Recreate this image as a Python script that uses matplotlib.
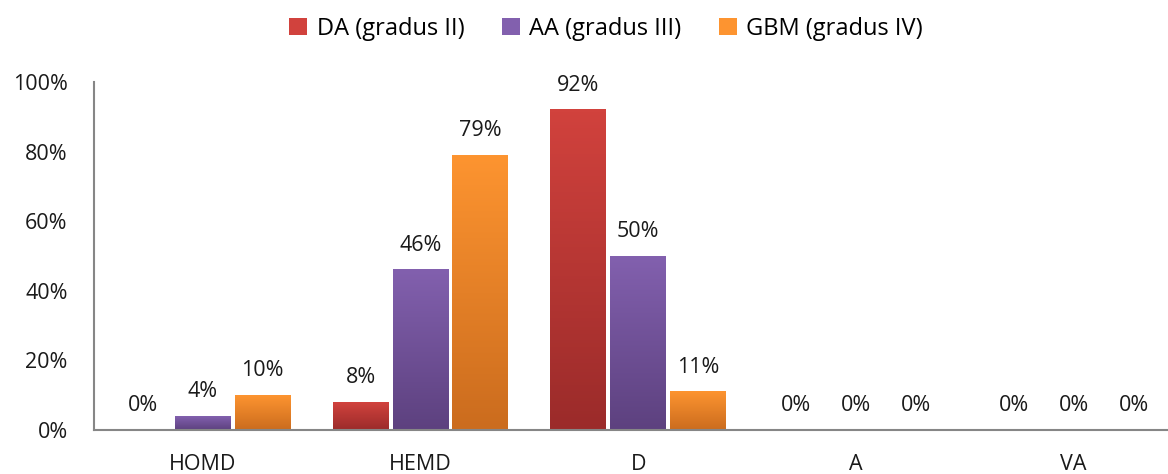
import numpy as np
import matplotlib.pyplot as plt
from matplotlib.colors import LinearSegmentedColormap
from matplotlib.patches import Patch

categories = ['HOMD', 'HEMD', 'D', 'A', 'VA']
series = ['DA (gradus II)', 'AA (gradus III)', 'GBM (gradus IV)']
da = [0, 8, 92, 0, 0]
aa = [4, 46, 50, 0, 0]
gbm = [10, 79, 11, 0, 0]

# top colour, bottom colour for each series
colors = [('#d1423d', '#9b2b2a'), ('#8260ae', '#5d417f'), ('#fd9430', '#cb6c1e')]

plt.rcParams['font.family'] = ['Open Sans', 'DejaVu Sans']

fig = plt.figure(figsize=(11.68, 4.74), dpi=100)
ax = fig.add_axes([0.0805, 0.0928, 0.932, 0.734])

x = np.arange(len(categories))
width = 0.257
offsets = [-0.275, 0, 0.275]

for vals, off, (ctop, cbot), name in zip([da, aa, gbm], offsets, colors, series):
    bars = ax.bar(x + off, vals, width, color='none', edgecolor='none', label=name)
    cmap = LinearSegmentedColormap.from_list(name, [cbot, ctop])
    grad = np.linspace(0, 1, 100).reshape(-1, 1)
    for b, v in zip(bars, vals):
        if v > 0:
            bx, by, bw, bh = b.get_x(), b.get_y(), b.get_width(), b.get_height()
            ax.imshow(grad, cmap=cmap, origin='lower', aspect='auto',
                      extent=(bx, bx + bw, by, by + bh), zorder=2)
        ax.text(b.get_x() + b.get_width() / 2, v + 4, f'{v}%',
                ha='center', va='bottom', fontsize=15.5, color='#1a1a1a')

ax.set_xlim(-0.5, len(categories) - 0.5)
ax.set_ylim(0, 100)
ax.set_yticks(range(0, 101, 20))
ax.set_yticklabels([f'{t}%' for t in range(0, 101, 20)], fontsize=15.5)
ax.set_xticks(x)
ax.set_xticklabels(categories, fontsize=15.5)
ax.tick_params(length=0, colors='#1a1a1a')
ax.tick_params(axis='x', pad=17)
ax.tick_params(axis='y', pad=19)
for s in ['top', 'right']:
    ax.spines[s].set_visible(False)
for s in ['left', 'bottom']:
    ax.spines[s].set_color('#868686')
    ax.spines[s].set_linewidth(1.5)

handles = [Patch(facecolor=c[0], edgecolor='none') for c in colors]
fig.legend(handles, series, loc='upper center', bbox_to_anchor=(0.519, 1.01), ncol=3,
           frameon=False, fontsize=17, handlelength=0.75, handleheight=0.75,
           handletextpad=0.4, columnspacing=1.6)

fig.savefig('out.png', dpi=100)
